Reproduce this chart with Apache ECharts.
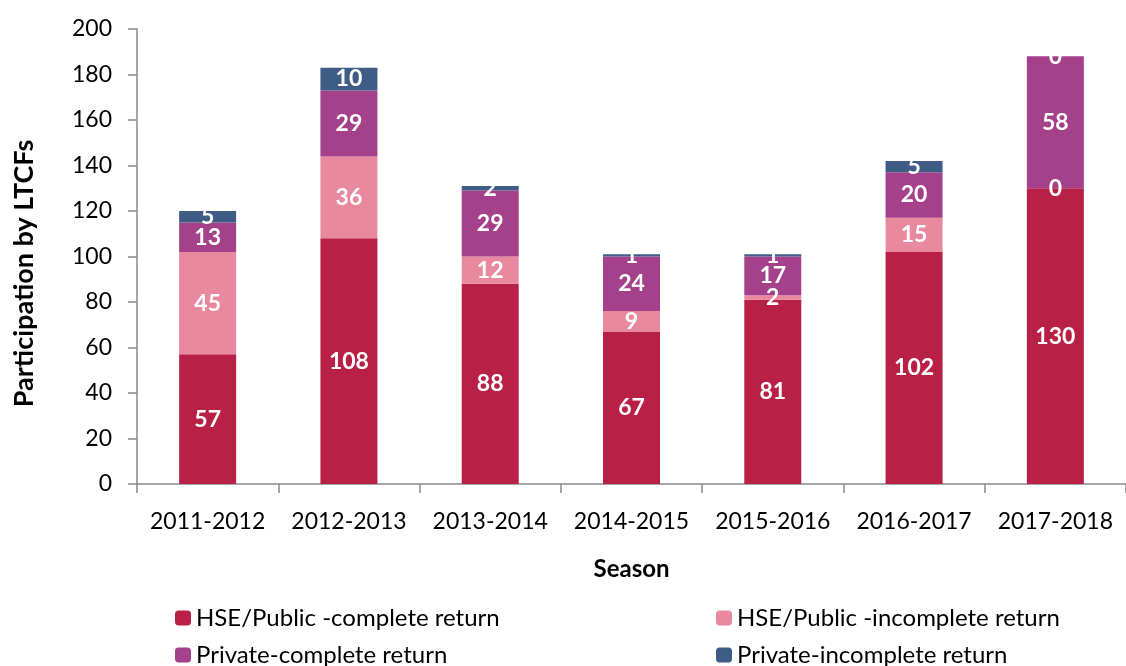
<!DOCTYPE html>
<html><head><meta charset="utf-8">
<script src="https://cdn.jsdelivr.net/npm/echarts@6/dist/echarts.min.js"></script>
<style>html,body{margin:0;padding:0;background:#fff}#c{width:1126px;height:666px}</style>
</head><body><div id="c"></div>
<script>
const seasons = ['2011-2012','2012-2013','2013-2014','2014-2015','2015-2016','2016-2017','2017-2018'];
const hseComplete = [57,108,88,67,81,102,130];
const hseIncomplete = [45,36,12,9,2,15,0];
const privComplete = [13,29,29,24,17,20,58];
const privIncomplete = [5,10,2,1,1,5,0];
const seriesNames = ['HSE/Public -complete return','HSE/Public -incomplete return','Private-complete return','Private-incomplete return'];
const colors = ['#B92045','#E9899F','#A4418A','#3E5C85'];
const FONT = 'Lato';
const chart = echarts.init(document.getElementById('c'));
const mk = (i, data) => ({
  name: seriesNames[i], type: 'bar', stack: 'total', data: data, barWidth: 57,
  itemStyle: {color: colors[i]},
  label: {show: true, position: 'inside', color: '#fff', fontWeight: 'bold', fontSize: 23, fontFamily: FONT},
  emphasis: {disabled: true}
});
const leg = (name, left, top) => ({
  left: left, top: top, itemWidth: 16, itemHeight: 15, itemGap: 0,
  data: [name], selectedMode: false,
  textStyle: {fontSize: 24, color: '#000', fontFamily: FONT}
});
chart.setOption({
  animation: false,
  textStyle: {fontFamily: FONT},
  grid: {left: 137, top: 29, width: 1001, height: 455, containLabel: false},
  xAxis: {
    type: 'category', data: seasons,
    name: 'Season', nameLocation: 'middle', nameGap: 73,
    nameTextStyle: {fontSize: 24, fontWeight: 'bold', color: '#000', fontFamily: FONT},
    axisLine: {lineStyle: {color: '#898989', width: 1.5}},
    axisTick: {show: true, length: 9, lineStyle: {color: '#898989', width: 1.5}},
    axisLabel: {fontSize: 23, color: '#000', margin: 26, fontFamily: FONT, interval: 0}
  },
  yAxis: {
    type: 'value', min: 0, max: 200, interval: 20,
    name: 'Participation by LTCFs', nameLocation: 'middle', nameRotate: 90, nameGap: 99,
    nameTextStyle: {fontSize: 27, fontWeight: 'bold', color: '#000', fontFamily: FONT, padding: [0, 34, 0, 0]},
    axisLine: {show: true, lineStyle: {color: '#898989', width: 1.5}},
    axisTick: {show: true, length: 9, lineStyle: {color: '#898989', width: 1.5}},
    splitLine: {show: false},
    axisLabel: {fontSize: 23, color: '#000', margin: 25, fontFamily: FONT}
  },
  legend: [
    leg(seriesNames[0], 170, 601),
    leg(seriesNames[2], 170, 638),
    leg(seriesNames[1], 711, 601),
    leg(seriesNames[3], 711, 638)
  ],
  series: [mk(0, hseComplete), mk(1, hseIncomplete), mk(2, privComplete), mk(3, privIncomplete)]
});
</script></body></html>
